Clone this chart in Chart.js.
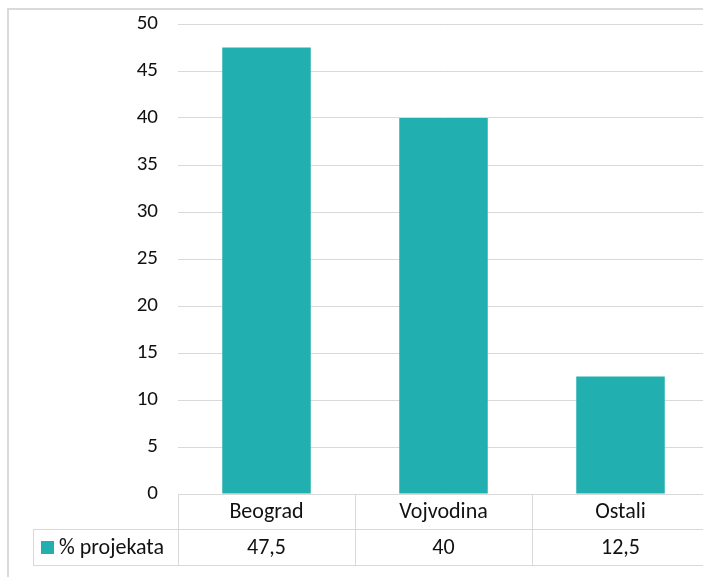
<!DOCTYPE html>
<html>
<head>
<meta charset="utf-8">
<script src="https://cdn.jsdelivr.net/npm/chart.js@4"></script>
<style>
  html, body { margin: 0; padding: 0; background: #ffffff; }
  #wrap { position: relative; width: 703px; height: 577px; overflow: hidden; background: #fff; }
  #frame { position: absolute; left: 7px; top: 8px; width: 800px; height: 700px; border: 2px solid #dadada; box-sizing: border-box; }
  #holder { position: absolute; left: 0; top: 0; width: 720px; height: 577px; }
</style>
</head>
<body>
<div id="wrap">
  <div id="frame"></div>
  <div id="holder"><canvas id="c" width="720" height="577"></canvas></div>
</div>
<script>
const categories = ['Beograd', 'Vojvodina', 'Ostali'];
const seriesName = '% projekata';
const values = [47.5, 40, 12.5];
const yMin = 0, yMax = 50, yStep = 5;

const BAR_COLOR = '#22AFAF';
const FONT_FAMILY = 'Carlito, "Open Sans", sans-serif';
const FONT_SIZE = 21;
const TABLE_FONT_SIZE = 22;
const TEXT_COLOR = '#111111';
const LINE_COLOR = '#d9d9d9';

const fmt = v => String(v).replace('.', ',');

const dataTable = {
  id: 'dataTable',
  afterDraw(chart) {
    const ctx = chart.ctx;
    const x = chart.scales.x;
    const a = chart.chartArea;
    const half = (x.getPixelForValue(1) - x.getPixelForValue(0)) / 2;
    const row0 = a.bottom, row1 = a.bottom + 35, row2 = a.bottom + 71;
    const legendLeft = 33;
    ctx.save();
    ctx.strokeStyle = LINE_COLOR;
    ctx.lineWidth = 1;
    const line = (x1, y1, x2, y2) => { ctx.beginPath(); ctx.moveTo(x1, y1); ctx.lineTo(x2, y2); ctx.stroke(); };
    line(a.left, row0 + 0.5, a.right, row0 + 0.5);
    line(legendLeft, row1 + 0.5, a.right, row1 + 0.5);
    line(legendLeft, row2 + 0.5, a.right, row2 + 0.5);
    line(legendLeft + 0.5, row1, legendLeft + 0.5, row2);
    line(a.left + 0.5, row0, a.left + 0.5, row2);
    categories.forEach((c, i) => {
      const r = Math.round(x.getPixelForValue(i) + half) + 0.5;
      line(r, row0, r, row2);
    });
    ctx.fillStyle = TEXT_COLOR;
    ctx.font = TABLE_FONT_SIZE + 'px ' + FONT_FAMILY;
    ctx.textAlign = 'center';
    ctx.textBaseline = 'middle';
    categories.forEach((c, i) => {
      const cx = x.getPixelForValue(i);
      ctx.fillText(c, cx, (row0 + row1) / 2 + 1);
      ctx.fillText(fmt(values[i]), cx, (row1 + row2) / 2 + 1);
    });
    ctx.fillStyle = BAR_COLOR;
    ctx.fillRect(41, (row1 + row2) / 2 - 6, 13, 13);
    ctx.fillStyle = TEXT_COLOR;
    ctx.textAlign = 'left';
    ctx.fillText(seriesName, 59, (row1 + row2) / 2 + 1);
    ctx.restore();
  }
};

new Chart(document.getElementById('c'), {
  type: 'bar',
  data: {
    labels: categories,
    datasets: [{
      label: seriesName,
      data: values,
      backgroundColor: BAR_COLOR,
      borderWidth: 0,
      barPercentage: 0.5,
      categoryPercentage: 1.0
    }]
  },
  options: {
    responsive: false,
    animation: false,
    devicePixelRatio: 1,
    layout: { padding: { top: 24, right: 11, left: 0, bottom: 0 } },
    plugins: { legend: { display: false }, tooltip: { enabled: false } },
    scales: {
      x: {
        ticks: { display: false },
        grid: { display: false },
        border: { display: false },
        afterFit: s => { s.height = 83; }
      },
      y: {
        min: yMin, max: yMax,
        ticks: { stepSize: yStep, padding: 20, color: TEXT_COLOR, font: { family: FONT_FAMILY, size: FONT_SIZE } },
        grid: { color: LINE_COLOR, drawTicks: false, lineWidth: 1 },
        border: { display: false },
        afterFit: s => { s.width = 178; s.paddingTop = 0; }
      }
    }
  },
  plugins: [dataTable]
});
</script>
</body>
</html>
